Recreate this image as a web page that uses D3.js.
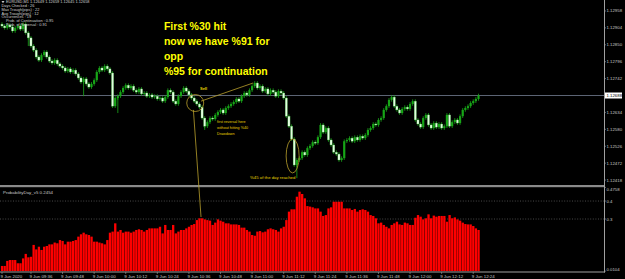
<!DOCTYPE html>
<html><head><meta charset="utf-8">
<script src="https://cdn.jsdelivr.net/npm/d3@7"></script>
<style>html,body{margin:0;padding:0;background:#000;overflow:hidden}svg{display:block}</style>
</head><body><div id="chart"></div>
<script>
// EURUSD M1, 9 Jun 2020 09:25 - 12:26, one close per minute
const closes=[
1.12910,1.12904,1.12913,1.12907,1.12894,1.12904,1.12910,1.12900,1.12916,1.12888,
1.12872,1.12846,1.12833,1.12811,1.12801,1.12817,1.12827,1.12811,1.12798,1.12792,
1.12801,1.12789,1.12782,1.12776,1.12766,1.12773,1.12763,1.12769,1.12757,1.12744,
1.12731,1.12741,1.12725,1.12715,1.12725,1.12737,1.12763,1.12776,1.12769,1.12782,
1.12773,1.12760,1.12654,1.12680,1.12686,1.12699,1.12712,1.12721,1.12712,1.12718,
1.12705,1.12699,1.12709,1.12693,1.12696,1.12686,1.12690,1.12683,1.12686,1.12677,
1.12680,1.12670,1.12683,1.12705,1.12699,1.12670,1.12661,1.12686,1.12699,1.12712,
1.12702,1.12690,1.12680,1.12670,1.12661,1.12651,1.12616,1.12590,1.12603,1.12616,
1.12613,1.12626,1.12635,1.12642,1.12632,1.12648,1.12654,1.12661,1.12667,1.12677,
1.12670,1.12686,1.12696,1.12690,1.12705,1.12718,1.12728,1.12712,1.12718,1.12702,
1.12709,1.12693,1.12705,1.12699,1.12686,1.12702,1.12696,1.12680,1.12622,1.12590,
1.12549,1.12466,1.12482,1.12488,1.12507,1.12498,1.12520,1.12527,1.12539,1.12536,
1.12555,1.12594,1.12571,1.12584,1.12546,1.12530,1.12507,1.12501,1.12482,1.12488,
1.12542,1.12546,1.12552,1.12542,1.12555,1.12546,1.12558,1.12552,1.12562,1.12578,
1.12584,1.12597,1.12594,1.12610,1.12616,1.12642,1.12654,1.12674,1.12683,1.12654,
1.12642,1.12632,1.12645,1.12651,1.12645,1.12661,1.12670,1.12610,1.12597,1.12587,
1.12616,1.12626,1.12594,1.12584,1.12600,1.12587,1.12597,1.12584,1.12590,1.12626,
1.12590,1.12603,1.12610,1.12600,1.12622,1.12642,1.12648,1.12654,1.12664,1.12670,
1.12677,1.12688];
const firstOpen=1.12916;
const longWicks=[{i:31,low:1.12686},{i:44,low:1.12632},{i:112,low:1.12424},{i:10,low:1.12846},{i:77,low:1.12578}];

// ProbabilityDay_v5 histogram
const probs=[
.039,.039,.067,.072,.072,.072,.054,.054,.081,.106,
.087,.090,.156,.131,.146,.128,.146,.150,.159,.159,
.169,.165,.183,.178,.159,.174,.174,.178,.183,.202,
.215,.224,.215,.211,.202,.174,.174,.169,.165,.159,
.183,.224,.230,.276,.230,.239,.224,.230,.230,.224,
.230,.239,.243,.239,.230,.239,.248,.248,.248,.248,
.257,.220,.267,.239,.239,.267,.220,.230,.239,.239,
.248,.257,.267,.272,.294,.304,.304,.298,.294,.291,
.267,.280,.298,.291,.285,.276,.276,.270,.270,.270,
.267,.252,.252,.239,.230,.211,.207,.230,.233,.226,
.230,.243,.248,.243,.239,.230,.248,.257,.294,.341,
.354,.354,.424,.452,.439,.415,.372,.369,.365,.359,
.359,.341,.317,.322,.359,.365,.396,.396,.396,.396,
.359,.359,.359,.350,.356,.341,.350,.354,.350,.341,
.322,.317,.304,.276,.280,.267,.257,.248,.267,.276,
.285,.270,.267,.280,.276,.267,.267,.307,.322,.313,
.298,.304,.326,.304,.319,.313,.317,.317,.317,.285,
.322,.304,.309,.298,.291,.280,.272,.270,.270,.261,
.248,.239];

const priceTicks=["1.12958","1.12904","1.12850","1.12796","1.12742","1.12634","1.12580","1.12526","1.12472","1.12418"];
const probTicks=[{v:0.4758,t:"0.4758"},{v:0.4,t:"0.4"},{v:0.3,t:"0.3"},{v:0.0104,t:"0.0104"}];
const probLevels=[0.4,0.3];
const timeLabels=[{i:0,t:"9 Jun 2020"},{i:11,t:"9 Jun 09:36"},{i:23,t:"9 Jun 09:48"},{i:35,t:"9 Jun 10:00"},
  {i:47,t:"9 Jun 10:12"},{i:59,t:"9 Jun 10:24"},{i:71,t:"9 Jun 10:36"},{i:83,t:"9 Jun 10:48"},
  {i:95,t:"9 Jun 11:00"},{i:107,t:"9 Jun 11:12"},{i:119,t:"9 Jun 11:24"},{i:131,t:"9 Jun 11:36"},
  {i:143,t:"9 Jun 11:48"},{i:155,t:"9 Jun 12:00"},{i:167,t:"9 Jun 12:12"},{i:179,t:"9 Jun 12:24"}];
const statsLines=["EURUSD,M1  1.12649 1.12659 1.12645 1.12658","Days Checked : 26","Max Trough(pips) : 22",
  "Avg Trough(pips) : 12","Occurrences : 19","Prob. of Continuation : 0.95","Prob. of Reversal : 0.91"];
const noteLines=["First %30 hit","now we have %91 for","opp","%95 for continuation"];
const reversalLines=["first reversal here","without hitting %40","Drawdown"];
const indicatorName="ProbabilityDay_v5 0.2454";

const W=625,H=279,axisX=604,paneTop=0,paneBot=186,indTop=187.4,indBot=271.1;
const grey="#a0a0a0",gold="#b9a02c",yellow="#ffff00";
const font="'Liberation Sans',Arial,sans-serif";

const svg=d3.select("#chart").append("svg").attr("width",W).attr("height",H)
  .style("background","#000").attr("font-family",font);

const x=d3.scaleLinear().domain([0,closes.length-1]).range([2,478.5]);
const y=d3.scaleLinear().domain([1.12399,1.12993]).range([paneBot,paneTop]);
const yp=d3.scaleLinear().domain([0.0104,0.4758]).range([indBot,indTop]);

// current price line
const last=closes[closes.length-1];
svg.append("line").attr("x1",0).attr("x2",axisX).attr("y1",y(last)).attr("y2",y(last))
  .attr("stroke","#5c6474").attr("stroke-width",1);

// candles
const bars=closes.map((c,i)=>({i,o:i?closes[i-1]:firstOpen,c}));
const cg=svg.append("g");
cg.selectAll(".wick").data(bars).join("line")
  .attr("x1",d=>x(d.i)).attr("x2",d=>x(d.i))
  .attr("y1",d=>y(Math.max(d.o,d.c))-1.8).attr("y2",d=>y(Math.min(d.o,d.c))+1.8)
  .attr("stroke","#1aa81a").attr("stroke-width",.8);
cg.selectAll(".lw").data(longWicks).join("line")
  .attr("x1",d=>x(d.i)).attr("x2",d=>x(d.i))
  .attr("y1",d=>y(closes[d.i])).attr("y2",d=>y(d.low))
  .attr("stroke","#1aa81a").attr("stroke-width",.8);
cg.selectAll(".body").data(bars).join("rect")
  .attr("x",d=>x(d.i)-1.1).attr("width",2.2)
  .attr("y",d=>y(Math.max(d.o,d.c)))
  .attr("height",d=>Math.max(1,Math.abs(y(d.o)-y(d.c))))
  .attr("fill",d=>d.c>=d.o?"#17a617":"#e2fde0")
  .attr("stroke",d=>d.c>=d.o?"none":"#3cc03c").attr("stroke-width",.3);

// indicator pane
svg.append("rect").attr("x",0).attr("y",185).attr("width",axisX+1).attr("height",2.2).attr("fill","#8a8a8a");
svg.selectAll(".lvl").data(probLevels).join("line")
  .attr("x1",0).attr("x2",axisX).attr("y1",d=>yp(d)).attr("y2",d=>yp(d))
  .attr("stroke","#7a7a7a").attr("stroke-width",.6).attr("stroke-dasharray","1 1.6");
svg.selectAll(".pb").data(probs).join("rect")
  .attr("x",(d,i)=>x(i)-1.1).attr("width",2.3)
  .attr("y",d=>yp(d)).attr("height",d=>yp(0.0104)-yp(d))
  .attr("fill","#ff0000");
svg.append("text").attr("x",3).attr("y",193.5).attr("font-size",4.4).attr("fill","#c8c8c8").text(indicatorName);

// axes
svg.append("line").attr("x1",axisX+.5).attr("x2",axisX+.5).attr("y1",0).attr("y2",272.5).attr("stroke",grey).attr("stroke-width",1);
svg.append("line").attr("x1",0).attr("x2",axisX+1).attr("y1",272).attr("y2",272).attr("stroke",grey).attr("stroke-width",1);
svg.selectAll(".pt").data(priceTicks).join("g")
  .attr("transform",d=>`translate(${axisX},${y(+d)})`)
  .call(g=>g.append("line").attr("x1",0).attr("x2",2).attr("stroke",grey).attr("stroke-width",.6))
  .call(g=>g.append("text").attr("x",2.5).attr("y",1.5).attr("font-size",4.3).attr("fill","#c8c8c8").text(d=>d));
const cp=svg.append("g").attr("transform",`translate(${axisX},${y(last)})`);
cp.append("rect").attr("x",1).attr("y",-3).attr("width",17).attr("height",6).attr("fill","#fff");
cp.append("text").attr("x",2.5).attr("y",1.6).attr("font-size",4.3).attr("fill","#000").text(last.toFixed(5));
svg.selectAll(".it").data(probTicks).join("g")
  .attr("transform",d=>`translate(${axisX},${yp(d.v)})`)
  .call(g=>g.append("line").attr("x1",0).attr("x2",2).attr("stroke",grey).attr("stroke-width",.6))
  .call(g=>g.append("text").attr("x",2.5).attr("y",d=>d.v>0.47?3.5:d.v<0.02?-0.5:1.5).attr("font-size",4.3).attr("fill","#c8c8c8").text(d=>d.t));
svg.selectAll(".tl").data(timeLabels).join("g")
  .attr("transform",d=>`translate(${x(d.i)},272)`)
  .call(g=>g.append("line").attr("y1",0).attr("y2",2).attr("stroke",grey).attr("stroke-width",.6))
  .call(g=>g.append("text").attr("x",-1.5).attr("y",5.8).attr("font-size",4.4).attr("fill","#c8c8c8").text(d=>d.t));

// stats block top-left
svg.append("path").attr("d","M1.5,1 L4.5,1 L3,3.2 Z").attr("fill","#c8c8c8");
svg.selectAll(".st").data(statsLines).join("text")
  .attr("x",(d,i)=>i===0?6:i>4?6:1.5).attr("y",(d,i)=>3.2+i*3.8)
  .attr("font-size",3.9).attr("fill","#d0d0d0").text(d=>d);

// annotations (anchored in data space)
const ann=svg.append("g").attr("fill","none").attr("stroke",gold).attr("stroke-width",.8);
ann.append("circle").attr("cx",x(73.4)).attr("cy",y(1.12664)).attr("r",8.5);
ann.append("line").attr("x1",x(75.6)).attr("y1",y(1.12670)).attr("x2",x(95.4)).attr("y2",y(1.12728));
ann.append("line").attr("x1",x(72.7)).attr("y1",y(1.12642)).attr("x2",x(75.6)).attr("y2",yp(0.311));
ann.append("ellipse").attr("cx",x(110.4)).attr("cy",y(1.12495)).attr("rx",6.5).attr("ry",17);

svg.append("text").attr("x",x(75.2)).attr("y",y(1.12704)).attr("font-size",4).attr("font-weight","bold")
  .attr("fill","#e8d400").text("Sell");
svg.append("text").attr("x",x(81.7)).attr("y",y(1.12600)).attr("font-size",3.7).attr("fill","#e8d400")
  .selectAll("tspan").data(reversalLines).join("tspan")
  .attr("x",x(81.7)).attr("dy",(d,i)=>i?6:0).text(d=>d);
svg.append("text").attr("x",x(94.2)).attr("y",y(1.12420)).attr("font-size",4.3).attr("fill","#e8d400")
  .text("%45 of the day reached");
svg.append("text").attr("x",x(61.5)).attr("y",y(1.12896)).attr("font-size",10.5).attr("font-weight","bold")
  .attr("fill",yellow)
  .selectAll("tspan").data(noteLines).join("tspan")
  .attr("x",x(61.5)).attr("dy",(d,i)=>i?14.8:0).text(d=>d);
</script>
</body></html>
